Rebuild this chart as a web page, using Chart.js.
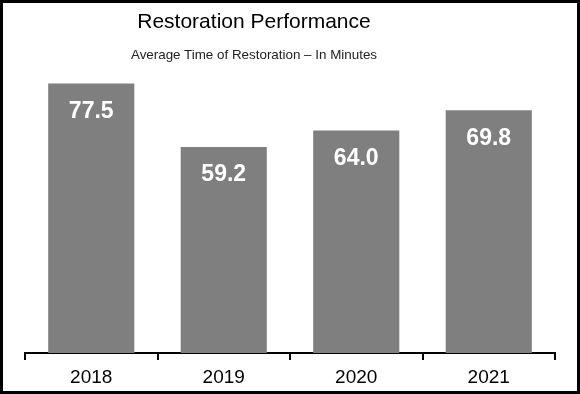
<!DOCTYPE html>
<html>
<head>
<meta charset="utf-8">
<title>Restoration Performance</title>
<script src="https://cdn.jsdelivr.net/npm/chart.js@4.4.1/dist/chart.umd.min.js"></script>
<style>
  html, body { margin: 0; padding: 0; background: #fff; }
  #frame {
    position: relative;
    width: 580px;
    height: 394px;
    box-sizing: border-box;
    border: 3px solid #000;
    background: #fff;
    font-family: "Liberation Sans", Arial, sans-serif;
  }
  #frame canvas { position: absolute; left: 0; top: 0; }
  .head {
    position: absolute;
    left: 0;
    width: 502px;
    text-align: center;
    color: #000;
    white-space: nowrap;
  }
  #title { top: 7px; font-size: 21px; line-height: 21px; }
  #subtitle { top: 45px; font-size: 13.4px; line-height: 13px; color: #222; }
</style>
</head>
<body>
<div id="frame">
  <canvas id="chart" width="574" height="388"></canvas>
  <div id="title" class="head">Restoration Performance</div>
  <div id="subtitle" class="head">Average Time of Restoration – In Minutes</div>
</div>
<script>
// values
const years = ['2018', '2019', '2020', '2021'];
const restorationMinutes = [77.5, 59.2, 64.0, 69.8];
const yMin = 0;
const yMax = 90;

const barGray = '#7f7f7f';

// white value labels inside the top of each bar
const valueLabels = {
    id: 'valueLabels',
    afterDatasetsDraw(chart) {
        const ctx = chart.ctx;
        const meta = chart.getDatasetMeta(0);
        ctx.save();
        ctx.fillStyle = '#fff';
        ctx.font = 'bold 23px "Liberation Sans", Arial, sans-serif';
        ctx.textAlign = 'center';
        ctx.textBaseline = 'middle';
        meta.data.forEach((bar, i) => {
            ctx.fillText(restorationMinutes[i].toFixed(1), bar.x, bar.y + 28);
        });
        ctx.restore();
    }
};

new Chart(document.getElementById('chart').getContext('2d'), {
    type: 'bar',
    data: {
        labels: years,
        datasets: [{
            label: 'Average Time of Restoration',
            data: restorationMinutes,
            backgroundColor: barGray,
            borderWidth: 0,
            barPercentage: 0.65,
            categoryPercentage: 1
        }]
    },
    options: {
        responsive: false,
        animation: false,
        layout: { padding: { top: 37, left: 22, right: 22, bottom: 0 } },
        plugins: {
            legend: { display: false },
            tooltip: { enabled: false }
        },
        scales: {
            x: {
                offset: true,
                grid: {
                    offset: true,
                    drawOnChartArea: false,
                    drawTicks: true,
                    tickLength: 7,
                    color: '#000',
                    lineWidth: 2
                },
                border: { display: true, color: '#000', width: 2 },
                ticks: {
                    color: '#000',
                    padding: 6,
                    font: { family: '"Liberation Sans", Arial, sans-serif', size: 19 }
                },
                afterFit(scale) { scale.height = 38; }
            },
            y: {
                display: false,
                min: yMin,
                max: yMax
            }
        }
    },
    plugins: [valueLabels]
});
</script>
</body>
</html>
